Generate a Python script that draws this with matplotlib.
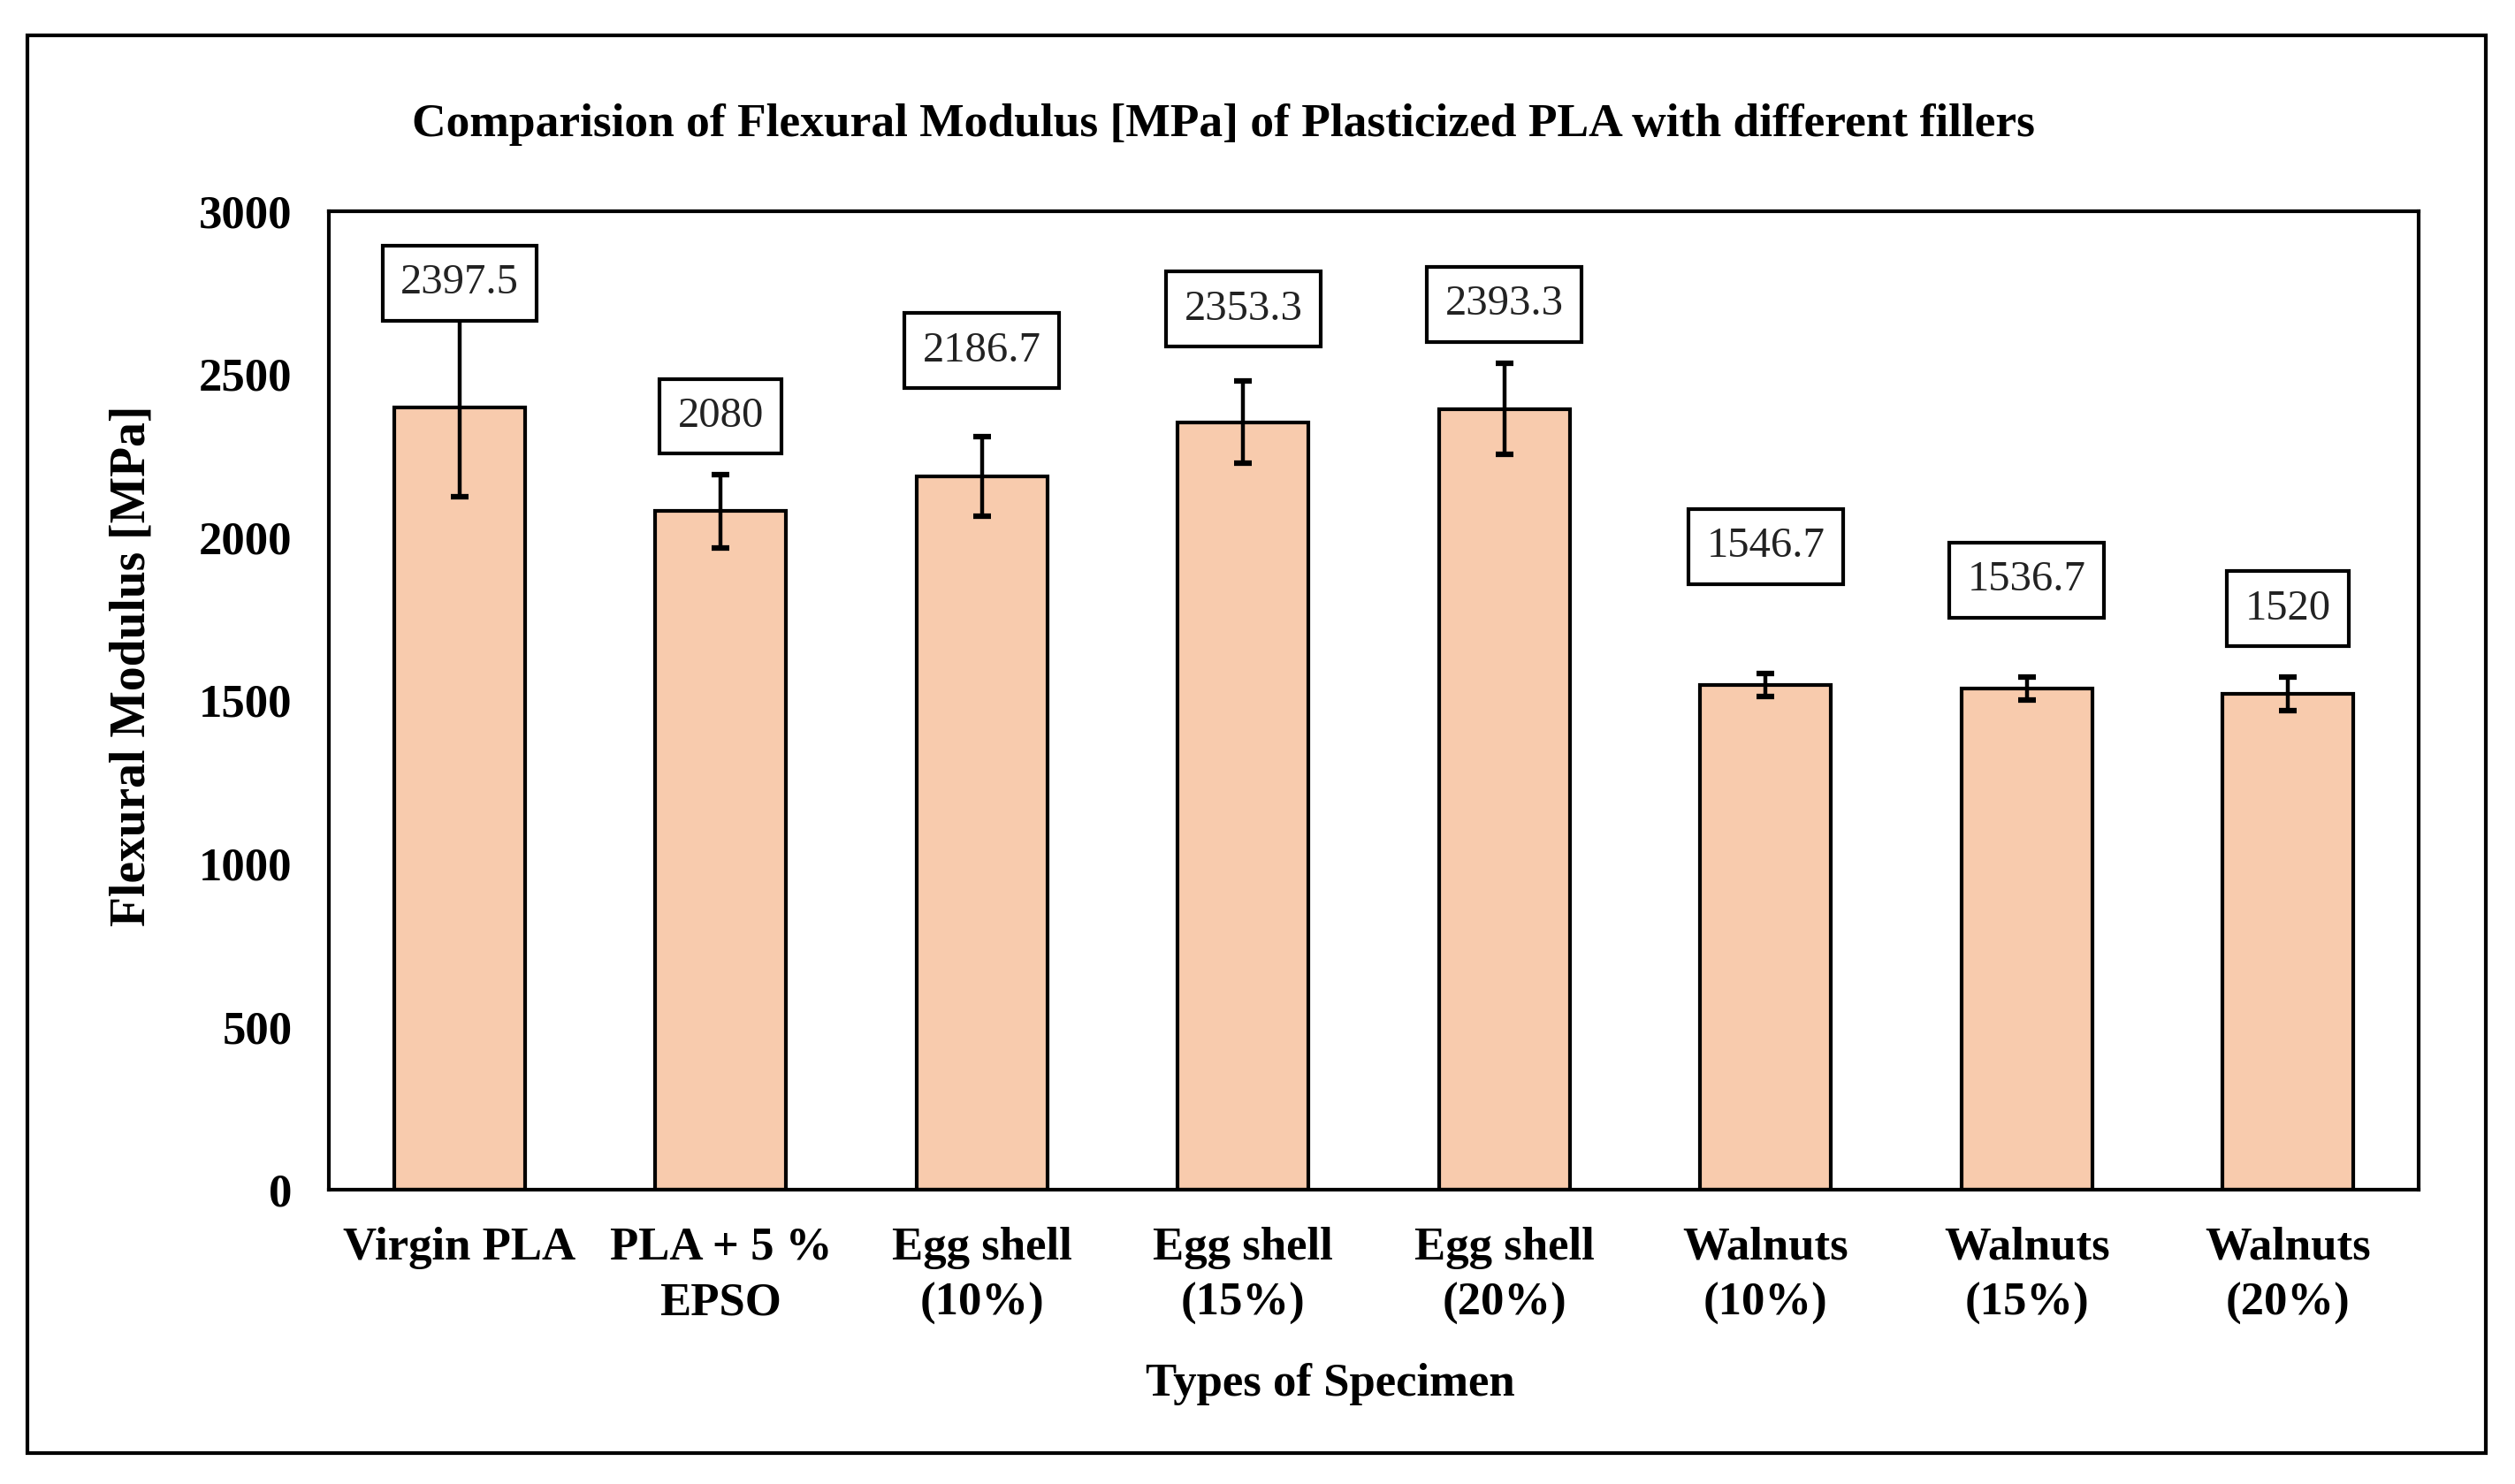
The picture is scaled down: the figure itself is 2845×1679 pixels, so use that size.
import matplotlib.pyplot as plt
import numpy as np
from matplotlib.patches import Rectangle

plt.rcParams['font.family'] = ['Liberation Serif', 'DejaVu Serif']
plt.rcParams['font.weight'] = 'bold'

# data
specimens = ['Virgin PLA', 'PLA + 5 %\nEPSO', 'Egg shell\n(10%)', 'Egg shell\n(15%)',
             'Egg shell\n(20%)', 'Walnuts\n(10%)', 'Walnuts\n(15%)', 'Walnuts\n(20%)']
modulus = [2397.5, 2080, 2186.7, 2353.3, 2393.3, 1546.7, 1536.7, 1520]
modulus_err = [273, 113, 122, 125, 140, 35, 35, 52]
value_labels = ['2397.5', '2080', '2186.7', '2353.3', '2393.3', '1546.7', '1536.7', '1520']
label_y = [2779, 2371, 2573, 2700, 2715, 1972, 1869, 1781]

fig = plt.figure(figsize=(28.45, 16.79), dpi=100)
ax = fig.add_axes([0.1308, 0.1983, 0.8309, 0.6594])

x = np.arange(len(specimens))
ax.bar(x, modulus, width=0.5, color='#F8CBAD', edgecolor='black', linewidth=3, zorder=2)
ax.errorbar(x, modulus, yerr=modulus_err, fmt='none', ecolor='black',
            elinewidth=3.2, capsize=7, capthick=4.5, zorder=3)

# boxed value labels
for xi, yi, s in zip(x, label_y, value_labels):
    ax.text(xi, yi, s, ha='center', va='center', fontsize=35, fontweight='normal',
            color='#222222',
            bbox=dict(boxstyle='square,pad=0.42', facecolor='white', edgecolor='black', linewidth=3))

ax.set_xlim(-0.5, len(specimens) - 0.5)
ax.set_ylim(0, 3000)
ax.set_yticks(np.arange(0, 3001, 500))
ax.set_xticks(x)
ax.set_xticklabels(specimens, fontsize=38, fontweight='bold', linespacing=1.4)
ax.tick_params(axis='y', labelsize=38, length=0, pad=30)
ax.tick_params(axis='x', length=0, pad=30)
for sp in ax.spines.values():
    sp.set_linewidth(3)

fig.text(0.0524, 0.5515, 'Flexural Modulus [MPa]', rotation=90, ha='center', va='center',
         fontsize=40, fontweight='bold')
fig.text(0.529, 0.0673, 'Types of Specimen', ha='center', va='center',
         fontsize=38, fontweight='bold')
fig.text(0.4865, 0.916, 'Comparision of Flexural Modulus [MPa] of Plasticized PLA with different fillers',
         ha='center', va='center', fontsize=38.5, fontweight='bold')

# outer frame around the whole chart
fig.patches.append(Rectangle((0.0109, 0.0208), 0.9775, 0.9554, transform=fig.transFigure,
                             fill=False, edgecolor='black', linewidth=3))

fig.savefig('out.png', dpi=100)
